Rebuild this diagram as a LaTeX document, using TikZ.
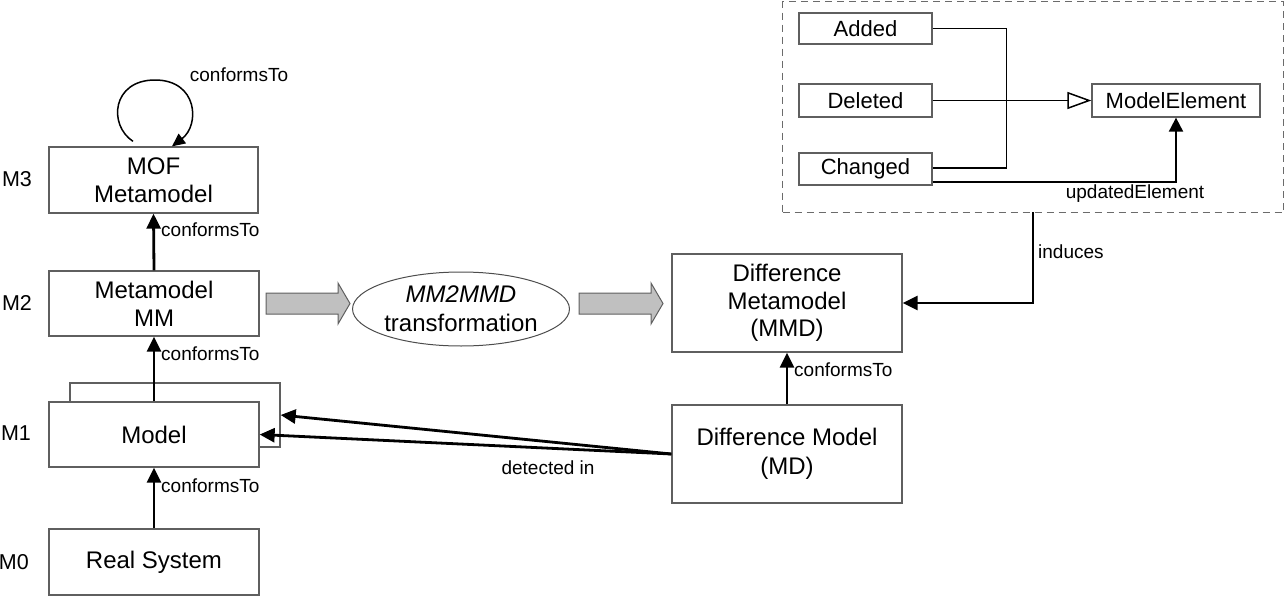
\documentclass[tikz,border=0pt]{standalone}
\usepackage{fontspec}
\setmainfont{Liberation Sans}
\usetikzlibrary{arrows.meta,shapes.geometric,calc}
\definecolor{boxline}{HTML}{5F5F5F}
\definecolor{garrfill}{HTML}{C0C0C0}
\begin{document}
\begin{tikzpicture}[x=1pt,y=-1pt,
  box/.style={draw=boxline,line width=1.3pt,fill=white,align=center,inner sep=0pt,font=\fontsize{24}{28}\selectfont},
  sbox/.style={draw=boxline,line width=1.3pt,fill=white,inner sep=0pt,font=\fontsize{22}{26}\selectfont},
  lbl/.style={inner sep=0pt,font=\fontsize{19}{22}\selectfont},
  lvl/.style={inner sep=0pt,font=\fontsize{21.5}{24}\selectfont},
  thickarr/.style={line width=2.8pt,-{Triangle[length=15pt,width=14pt]}},
  looparr/.style={line width=1.5pt,-{Triangle[length=13pt,width=12pt]}},
  uml/.style={line width=1.5pt},
  umlarr/.style={line width=2pt,-{Triangle[length=14pt,width=14pt]}},
  garr/.style={draw=boxline,line width=1pt,fill=garrfill},
  grpbox/.style={draw=black!58,line width=1.3pt,dash pattern=on 7pt off 5pt}
]
\useasboundingbox (0,0) rectangle (1285,597);

% level labels
\node[lvl] (m3) at (17,179) {M3};
\node[lvl] (m2) at (17,303) {M2};
\node[lvl] (m1) at (16,433) {M1};
\node[lvl,anchor=east] (m0) at (29,562) {M0};

% left column
\node[box,minimum width=209pt,minimum height=66pt] (mof) at (153.5,180) {MOF\\Metamodel};
\node[box,minimum width=210pt,minimum height=65pt] (mm) at (154,303.5) {Metamodel\\MM};
\node[box,minimum width=210pt,minimum height=64pt] (modelback) at (175,415) {};
\node[box,minimum width=210pt,minimum height=65pt] (model) at (154,434.5) {Model};
\node[box,minimum width=210pt,minimum height=66pt] (real) at (154,562) {Real System};

% transformation
\node[draw=black!70,line width=1pt,ellipse,minimum width=210pt,minimum height=74pt,inner sep=0pt,align=center,font=\fontsize{24}{29}\selectfont] (mm2mmd) at (461,309) {\textit{MM2MMD}\\transformation};
\draw[garr] (266,293) -- (338,293) -- (338,283) -- (350,303.5) -- (338,324) -- (338,314) -- (266,314) -- cycle;
\draw[garr] (579,293) -- (651,293) -- (651,283) -- (663,303.5) -- (651,324) -- (651,314) -- (579,314) -- cycle;

% right column
\node[box,minimum width=230pt,minimum height=98pt,font=\fontsize{24}{27.5}\selectfont] (dmm) at (787,303) {Difference\\Metamodel\\(MMD)};
\node[box,minimum width=230pt,minimum height=98pt,font=\fontsize{24}{29}\selectfont] (dm) at (787,454) {Difference Model\\(MD)};

% conformsTo arrows
\draw[looparr] ([shift={(-20.5,-5)}]mof.north) .. controls (108,125) and (112,80) .. (155,80) .. controls (198,80) and (200,125) .. ([xshift=18.5pt]mof.north);
\node[lbl] (c0) at (239,75) {conformsTo};
\draw[thickarr] (mm.north) -- (mof.south);
\node[lbl,anchor=west] (c1) at (161,230) {conformsTo};
\draw[thickarr] (model.north) -- (mm.north |- mm.south);
\node[lbl,anchor=west] (c2) at (161,354) {conformsTo};
\draw[thickarr] (real.north) -- (model.south);
\node[lbl,anchor=west] (c3) at (161,486) {conformsTo};
\draw[thickarr] (dm.north) -- (dmm.south);
\node[lbl,anchor=west] (c4) at (794,370) {conformsTo};

% detected in
\draw[thickarr] (dm.west) -- (modelback.east);
\draw[thickarr] (dm.west) -- (model.east);
\node[lbl] (det) at (548,468) {detected in};

% difference group
\node[grpbox,anchor=north west,minimum width=501pt,minimum height=211pt,inner sep=0pt] (grp) at (782,1) {};
\node[sbox,minimum width=133pt,minimum height=31pt] (added) at (865.5,28.5) {Added};
\node[sbox,minimum width=133pt,minimum height=33pt] (deleted) at (865.5,100.5) {Deleted};
\node[sbox,minimum width=133pt,minimum height=32pt] (changed) at (865.5,169) {Changed};
\node[sbox,minimum width=168pt,minimum height=33pt] (me) at (1176,100.5) {ModelElement};
\draw[uml] (added.east) -- ++(74,0) |- ([yshift=1pt]changed.east);
\draw[uml,-{Triangle[open,length=24pt,width=17pt,fill=white]}] (deleted.east) -- (me.west);
\draw[umlarr] ([yshift=-13pt]changed.east) -| (me.south);
\node[lbl] (upd) at (1135,194) {updatedElement};

% induces
\coordinate (indtop) at (1033,212);
\draw[thickarr] (indtop) |- (dmm.east);
\node[lbl,anchor=west] (ind) at (1038,252) {induces};
\end{tikzpicture}
\end{document}
